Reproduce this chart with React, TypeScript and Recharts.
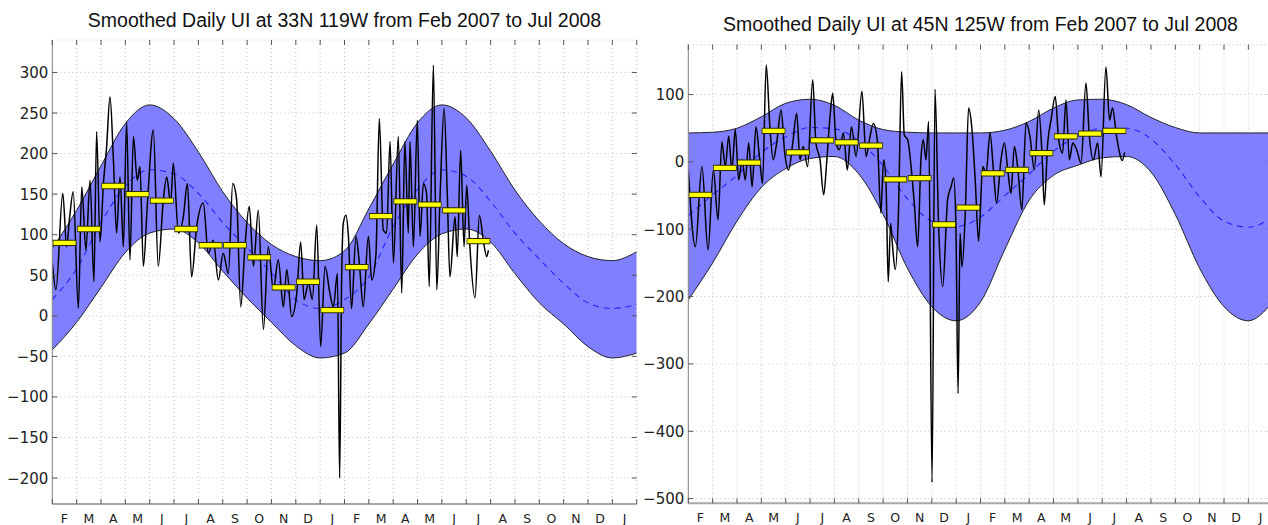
import React from 'react'
import { ComposedChart, Area, Line, XAxis, YAxis, CartesianGrid } from 'recharts'

// month axis: Feb 2007 .. Jan 2009, ticks on month boundaries, letters mid-month
const monthLetters = ['F', 'M', 'A', 'M', 'J', 'J', 'A', 'S', 'O', 'N', 'D', 'J', 'F', 'M', 'A', 'M', 'J', 'J', 'A', 'S', 'O', 'N', 'D', 'J']
const monthTicks = [0, 1, 2, 3, 4, 5, 6, 7, 8, 9, 10, 11, 12, 13, 14, 15, 16, 17, 18, 19, 20, 21, 22, 23, 24]

// ---- 33N 119W ----
const leftTitle = 'Smoothed Daily UI at 33N 119W from Feb 2007 to Jul 2008'
const leftYTicks = [-200, -150, -100, -50, 0, 50, 100, 150, 200, 250, 300]
const leftYDomain: [number, number] = [-232, 340]
// climatology at each month boundary
const leftUpper = [83, 130, 185, 237, 260, 243, 202, 153, 115, 88, 73, 68, 80, 132, 187, 238, 260, 244, 203, 155, 117, 89, 73, 68, 79]
const leftLower = [-42, -8, 35, 78, 102, 107, 90, 55, 22, -8, -37, -52, -46, -10, 33, 76, 101, 107, 91, 52, 16, -10, -38, -52, -46]
const leftMean = [20, 58, 115, 160, 180, 175, 151, 115, 84, 53, 20, 9, 20, 48, 110, 156, 180, 172, 141, 102, 70, 40, 16, 9, 14]
// monthly means Feb 2007 .. Jul 2008
const leftMonthly = [90, 107, 160, 150, 142, 107, 87, 87, 72, 35, 42, 7, 60, 123, 141, 137, 130, 92]
// smoothed daily index [month, value]
const leftDaily = [
  [0.0, 65], [0.15, 32], [0.43, 151], [0.59, 85], [0.7, 118], [0.86, 153], [1.07, 9], [1.21, 159], [1.38, 81],
  [1.55, 167], [1.71, 42], [1.82, 227], [1.96, 91], [2.1, 163], [2.23, 208], [2.37, 270], [2.51, 192], [2.64, 102],
  [2.78, 171], [2.92, 85], [3.05, 239], [3.19, 69], [3.33, 221], [3.49, 167], [3.6, 184], [3.74, 61], [3.9, 135],
  [4.15, 229], [4.35, 61], [4.56, 143], [4.7, 171], [4.86, 139], [4.97, 188], [5.18, 102], [5.38, 122], [5.55, 163],
  [5.72, 48], [5.93, 110], [6.2, 139], [6.41, 77], [6.61, 93], [6.82, 44], [7.02, 77], [7.23, 52], [7.41, 163],
  [7.57, 143], [7.74, 11], [7.91, 85], [8.09, 135], [8.26, 61], [8.46, 130], [8.67, -17], [8.87, 85], [9.08, 32],
  [9.28, 69], [9.49, 11], [9.63, 57], [9.83, -1], [10.04, 28], [10.2, 91], [10.34, 20], [10.52, 40], [10.68, 20],
  [10.86, 112], [11.02, -38], [11.2, 61], [11.4, 28], [11.54, 11], [11.71, 52], [11.8, -200], [11.88, 40], [11.95, 114],
  [12.06, 124], [12.16, 98], [12.29, 9], [12.47, 98], [12.61, 65], [12.77, 11], [12.98, 98], [13.12, 44], [13.29, 75],
  [13.43, 243], [13.59, 106], [13.73, 102], [13.87, 215], [14.01, 65], [14.21, 221], [14.35, 28], [14.48, 215],
  [14.62, 102], [14.69, 215], [14.83, 85], [14.99, 241], [15.1, 98], [15.24, 163], [15.37, 151], [15.48, 36],
  [15.65, 309], [15.79, 32], [15.92, 143], [16.09, 256], [16.22, 151], [16.33, 48], [16.54, 122], [16.63, 73],
  [16.77, 204], [16.91, 85], [17.02, 161], [17.15, 85], [17.36, 22], [17.54, 124], [17.7, 93], [17.84, 73], [17.91, 81],
]

// ---- 45N 125W ----
const rightTitle = 'Smoothed Daily UI at 45N 125W from Feb 2007 to Jul 2008'
const rightYTicks = [-500, -400, -300, -200, -100, 0, 100]
const rightYDomain: [number, number] = [-507, 174]
const rightUpper = [43, 44, 50, 67, 87, 93, 84, 62, 48, 44, 43, 43, 43, 47, 60, 80, 92, 93, 85, 66, 51, 43, 43, 43, 43]
const rightLower = [-205, -150, -88, -38, -10, 5, 8, -18, -78, -158, -215, -236, -208, -130, -57, -20, -5, 6, 8, -15, -78, -158, -215, -236, -208]
const rightMean = [-80, -49, -20, 14, 37, 51, 49, 31, -6, -55, -88, -96, -82, -50, -18, 16, 38, 50, 50, 34, -4, -52, -88, -97, -82]
const rightMonthly = [-49, -9, -1, 46, 14, 32, 29, 24, -26, -24, -93, -68, -17, -12, 13, 38, 42, 46]
const rightDaily = [
  [0.0, -12], [0.29, -126], [0.56, -7], [0.81, -131], [1.03, -12], [1.22, -86], [1.38, 30], [1.52, -7], [1.66, 38],
  [1.79, -12], [1.93, 48], [2.07, -27], [2.21, 3], [2.34, -27], [2.48, 28], [2.62, -37], [2.78, 52], [2.92, 8],
  [3.05, -32], [3.2, 144], [3.35, 52], [3.49, 3], [3.63, 28], [3.81, 77], [3.96, 13], [4.12, -12], [4.29, 28],
  [4.45, 72], [4.59, 3], [4.72, 23], [4.9, -7], [5.11, 122], [5.24, 28], [5.41, 3], [5.56, -49], [5.68, -2],
  [5.82, 67], [5.93, 102], [6.07, 28], [6.2, 18], [6.37, 43], [6.53, -12], [6.7, 52], [6.89, 8], [7.13, 105],
  [7.3, 8], [7.44, 33], [7.6, 57], [7.76, 33], [7.91, -76], [8.02, 3], [8.12, -32], [8.21, -178], [8.31, -91],
  [8.39, -126], [8.5, -160], [8.63, -76], [8.76, 134], [8.87, 40], [9.01, 33], [9.15, -7], [9.28, -61], [9.42, -126],
  [9.56, 8], [9.65, 33], [9.76, 3], [9.87, 60], [10.01, -476], [10.13, 108], [10.28, -96], [10.45, -185], [10.65, -56],
  [10.79, -37], [10.9, -24], [10.99, -96], [11.08, -344], [11.16, -106], [11.24, -156], [11.38, -71], [11.51, 80],
  [11.65, 48], [11.79, -32], [11.92, -118], [12.09, -7], [12.23, -17], [12.39, 43], [12.53, -12], [12.66, -61],
  [12.84, 3], [12.98, 28], [13.12, -12], [13.25, -47], [13.39, 23], [13.53, -9], [13.7, -71], [13.87, 58], [14.03, 38],
  [14.21, -12], [14.39, 77], [14.53, 8], [14.62, -64], [14.76, 28], [14.9, 63], [15.07, 97], [15.21, 33], [15.37, 13],
  [15.51, 92], [15.65, 3], [15.79, 28], [15.95, 18], [16.13, -2], [16.33, 117], [16.47, 38], [16.63, 3], [16.81, 28],
  [16.95, -22], [17.15, 141], [17.3, 62], [17.42, 80], [17.58, 40], [17.72, 12], [17.82, 2], [17.92, 14],
]

const CHART_W = 660
const CHART_H = 525
const Y_AXIS_W = 52.3
const PLOT_W = 584.4
const TICK_FONT = '"DejaVu Sans", sans-serif'
const AXIS_GRAY = '#808080'

const fmt = (v: number) => (v < 0 ? `\u2212${-v}` : `${v}`)

type PanelProps = {
  left: number
  plotTop: number
  xAxisH: number
  upper: number[]
  lower: number[]
  mean: number[]
  daily: number[][]
  monthly: number[]
  yDomain: [number, number]
  yTicks: number[]
}

function Panel(p: PanelProps) {
  const plotLeft = Y_AXIS_W
  const plotRight = Y_AXIS_W + PLOT_W
  const plotBottom = CHART_H - p.xAxisH
  const monthW = PLOT_W / 24

  const clim = monthTicks.map((m, i) => ({
    m,
    upper: p.upper[i],
    lower: p.lower[i],
    mean: p.mean[i],
    band: [p.lower[i], p.upper[i]],
  }))
  const dailyData = p.daily.map(([m, v]) => ({ m, v }))
  // each monthly mean drawn as a short horizontal bar across its month
  const barEdge = p.monthly.flatMap((v, i) => [{ m: i + 0.015, v }, { m: i + 0.985, v }, { m: i + 0.99, v: null }])
  const barFill = p.monthly.flatMap((v, i) => [{ m: i + 0.045, v }, { m: i + 0.955, v }, { m: i + 0.96, v: null }])

  const renderXTick = (props: any) => {
    const { x, payload } = props
    const label = monthLetters[payload.value]
    return (
      <g>
        <line x1={x} x2={x} y1={plotBottom} y2={plotBottom - 5} stroke="#555" />
        <line x1={x} x2={x} y1={p.plotTop} y2={p.plotTop + 5} stroke="#555" />
        {label && (
          <text x={x + monthW / 2} y={plotBottom + 19} textAnchor="middle" fontSize={12.5} fontFamily={TICK_FONT} fill="#222">
            {label}
          </text>
        )}
      </g>
    )
  }

  const renderYTick = (props: any) => {
    const { y, payload } = props
    return (
      <g>
        <line x1={plotLeft} x2={plotLeft + 5} y1={y} y2={y} stroke="#555" />
        <line x1={plotRight} x2={plotRight - 5} y1={y} y2={y} stroke="#555" />
        <text x={plotLeft - 4} y={y + 5.5} textAnchor="end" fontSize={15} fontFamily={TICK_FONT} fill="#222">
          {fmt(payload.value)}
        </text>
      </g>
    )
  }

  return (
    <div style={{ position: 'absolute', left: p.left, top: 0 }}>
      <ComposedChart
        width={CHART_W}
        height={CHART_H}
        data={clim}
        margin={{ top: p.plotTop, right: CHART_W - plotRight, bottom: 0, left: 0 }}
      >
        <CartesianGrid stroke="#c2c2c2" strokeDasharray="1 3" />
        <XAxis
          dataKey="m"
          type="number"
          domain={[0, 24]}
          ticks={monthTicks}
          interval={0}
          height={p.xAxisH}
          tick={renderXTick}
          tickLine={false}
          axisLine={{ stroke: '#a8a8a8', strokeWidth: 2 }}
          allowDataOverflow
        />
        <XAxis
          xAxisId="top"
          orientation="top"
          type="number"
          domain={[0, 24]}
          height={0}
          tick={false}
          tickLine={false}
          axisLine={{ stroke: AXIS_GRAY }}
        />
        <YAxis
          type="number"
          domain={p.yDomain}
          ticks={p.yTicks}
          interval={0}
          width={Y_AXIS_W}
          tick={renderYTick}
          tickLine={false}
          axisLine={{ stroke: AXIS_GRAY }}
          allowDataOverflow
        />
        <YAxis
          yAxisId="r"
          orientation="right"
          type="number"
          domain={p.yDomain}
          width={0}
          tick={false}
          tickLine={false}
          axisLine={{ stroke: AXIS_GRAY }}
        />
        <Area dataKey="band" type="monotone" fill="#7f7fff" fillOpacity={1} stroke="none" isAnimationActive={false} />
        <Line dataKey="upper" type="monotone" stroke="#111" strokeWidth={0.9} dot={false} activeDot={false} isAnimationActive={false} />
        <Line dataKey="lower" type="monotone" stroke="#111" strokeWidth={0.9} dot={false} activeDot={false} isAnimationActive={false} />
        <Line dataKey="mean" type="monotone" stroke="#2424ff" strokeWidth={1.1} strokeDasharray="6 5" dot={false} activeDot={false} isAnimationActive={false} />
        <Line data={dailyData} dataKey="v" type="monotone" stroke="#000" strokeWidth={1.5} dot={false} activeDot={false} isAnimationActive={false} />
        <Line data={barEdge} dataKey="v" type="linear" stroke="#2a2a00" strokeWidth={6.3} connectNulls={false} dot={false} activeDot={false} isAnimationActive={false} />
        <Line data={barFill} dataKey="v" type="linear" stroke="#ffff00" strokeWidth={4.3} connectNulls={false} dot={false} activeDot={false} isAnimationActive={false} />
      </ComposedChart>
    </div>
  )
}

export default function App() {
  return (
    <div
      style={{
        position: 'fixed',
        left: 0,
        top: 0,
        width: 1268,
        height: 525,
        overflow: 'hidden',
        background: '#fff',
      }}
    >
      <Panel
        left={0}
        plotTop={40}
        xAxisH={21}
        upper={leftUpper}
        lower={leftLower}
        mean={leftMean}
        daily={leftDaily}
        monthly={leftMonthly}
        yDomain={leftYDomain}
        yTicks={leftYTicks}
      />
      <Panel
        left={636}
        plotTop={44.7}
        xAxisH={21.7}
        upper={rightUpper}
        lower={rightLower}
        mean={rightMean}
        daily={rightDaily}
        monthly={rightMonthly}
        yDomain={rightYDomain}
        yTicks={rightYTicks}
      />
      <svg width={1268} height={60} style={{ position: 'absolute', left: 0, top: 0, pointerEvents: 'none' }}>
        <text x={344.5} y={26.5} textAnchor="middle" fontSize={19.5} fontFamily='"Liberation Sans", Arial, sans-serif' fill="#111">
          {leftTitle}
        </text>
        <text x={980.5} y={31} textAnchor="middle" fontSize={19.5} fontFamily='"Liberation Sans", Arial, sans-serif' fill="#111">
          {rightTitle}
        </text>
      </svg>
    </div>
  )
}
